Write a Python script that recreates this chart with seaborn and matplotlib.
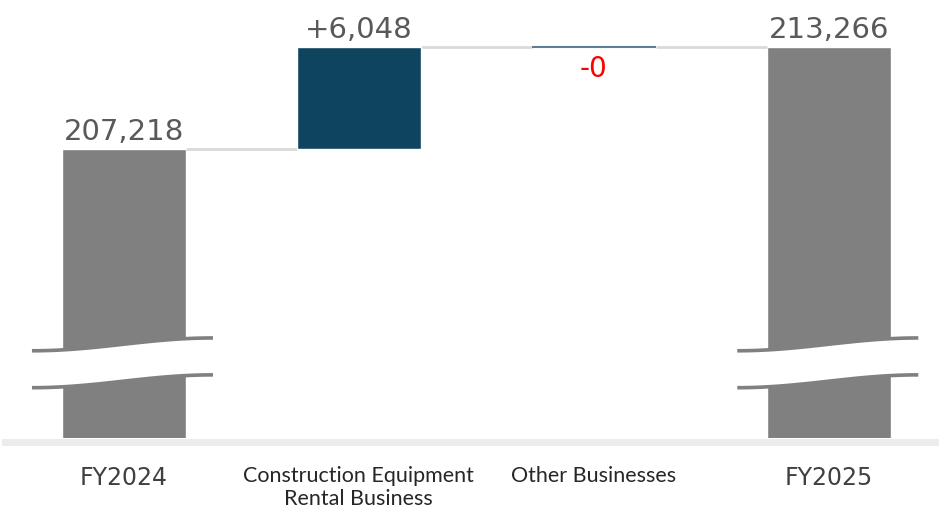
import numpy as np
import pandas as pd
import seaborn as sns
import matplotlib.pyplot as plt

# data
categories = ["FY2024", "Construction Equipment\nRental Business", "Other Businesses", "FY2025"]
start_total = 207218
deltas = [6048, 0]
end_total = 213266
labels = ["207,218", "+6,048", "-0", "213,266"]

sns.set_style("white")
plt.rcParams['font.family'] = ['DejaVu Sans']

fig = plt.figure(figsize=(9.39, 5.08), dpi=100)
ax = fig.add_axes([0.005, 0.138, 0.995, 0.862])

# totals drawn with seaborn
totals = pd.DataFrame({"cat": categories,
                       "val": [start_total, np.nan, np.nan, end_total]})
sns.barplot(data=totals, x="cat", y="val", order=categories, color="#808080",
            saturation=1, width=0.528, ax=ax)

# floating bars for the changes
bottoms = [start_total, start_total + deltas[0]]
ax.bar(1, deltas[0], bottom=bottoms[0], width=0.528, color="#0e445e", zorder=3)
ax.bar(2, deltas[1], bottom=bottoms[1], width=0.528, color="#5f7d95",
       edgecolor="#5f7d95", linewidth=1.5, zorder=3)

# connectors
hw = 0.264
levels = [start_total, start_total + deltas[0], start_total + deltas[0] + deltas[1]]
for i, lv in enumerate(levels):
    ax.hlines(lv, i + hw, i + 1 - hw, color="#d9d9d9", lw=2, zorder=2)

ax.set_ylim(190083, 216053)
ax.set_xlim(-0.506, 3.468)

# value labels
tops = [start_total, bottoms[0] + deltas[0], bottoms[1], end_total]
for i, (t, lab) in enumerate(zip(tops, labels)):
    if lab.startswith("-"):
        ax.text(i, t - 500, lab, ha="center", va="top", fontsize=20, color="#ff0000")
    else:
        ax.text(i, t + 200, lab, ha="center", va="bottom", fontsize=21, color="#595959")

# axis break marks on the total bars
t = np.linspace(0, 1, 100)
for i in [0, 3]:
    xs = i - 0.39 + 0.77 * t
    shift = 760 * (1 - np.cos(np.pi * t)) / 2
    upper = 195250 + shift
    lower = 193060 + shift
    ax.fill_between(xs, lower, upper, color="white", zorder=4, lw=0)
    ax.plot(xs, upper, color="#808080", lw=2.6, zorder=5, solid_capstyle="butt")
    ax.plot(xs, lower, color="#808080", lw=2.6, zorder=5, solid_capstyle="butt")

# axes styling
for s in ["top", "right", "left"]:
    ax.spines[s].set_visible(False)
ax.spines["bottom"].set_color("#ececec")
ax.spines["bottom"].set_linewidth(5)
ax.spines["bottom"].set_position(("outward", 3))
ax.set_yticks([])
ax.set_xlabel("")
ax.set_ylabel("")
ax.tick_params(axis="x", length=0, pad=17)
for i, tl in enumerate(ax.get_xticklabels()):
    if i in (0, 3):
        tl.set_fontsize(17)
        tl.set_color("#404040")
    else:
        tl.set_fontsize(15.5)
        tl.set_color("#262626")
        tl.set_family(["Lato", "DejaVu Sans"])
        tl.set_linespacing(1.2)
    tl.set_va("top")

fig.savefig("out.png", dpi=100)
